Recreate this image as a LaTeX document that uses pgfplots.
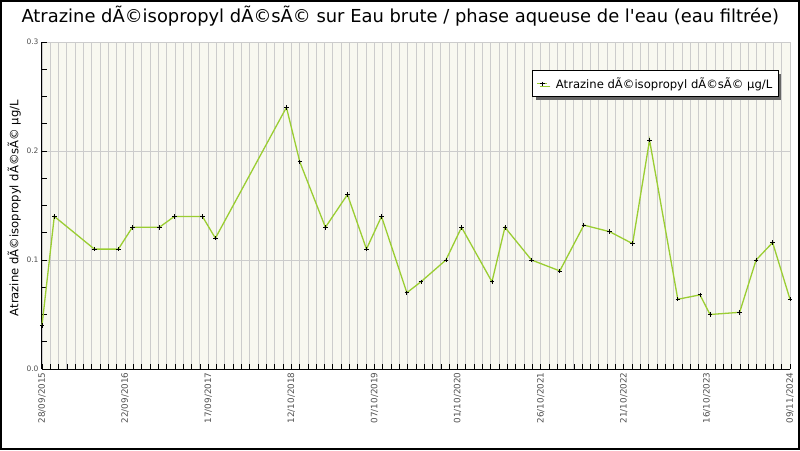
\documentclass[border=0pt]{standalone}
\usepackage{fontspec}
\setmainfont{DejaVu Sans}[Ligatures=TeXOff]
\usepackage{pgfplots}
\pgfplotsset{compat=1.18}
\usetikzlibrary{shadows}

\definecolor{plotbg}{RGB}{248,248,240}
\definecolor{gridgray}{RGB}{204,204,204}
\definecolor{serie}{RGB}{154,205,50}
\definecolor{ticktext}{RGB}{80,80,80}

% x = rang de la graduation (0..90), y = valeur en µg/L
\pgfplotstableread{
x     y
0     0.040
1.48  0.140
6.30  0.110
9.19  0.110
10.87 0.130
14.12 0.130
15.93 0.140
19.30 0.140
20.86 0.120
29.41 0.240
31.02 0.190
34.10 0.130
36.75 0.160
39.04 0.110
40.85 0.140
43.90 0.070
45.59 0.080
48.60 0.100
50.48 0.130
54.14 0.080
55.70 0.130
58.90 0.100
62.30 0.090
65.20 0.132
68.30 0.126
71.06 0.115
73.10 0.210
76.50 0.064
79.17 0.068
80.38 0.050
83.94 0.052
85.92 0.100
87.91 0.116
90.00 0.064
}\atrazine

\begin{document}
\begin{tikzpicture}
\begin{axis}[
	name=ax,
	scale only axis, width=748pt, height=327pt,
	xmin=0, xmax=90, ymin=0, ymax=0.3,
	axis x line*=bottom, axis y line*=left,
	axis line style={black, line width=1pt, -},
	axis background/.style={fill=plotbg},
	xtick={0,10,...,90},
	xticklabels={28/09/2015,22/09/2016,17/09/2017,12/10/2018,07/10/2019,01/10/2020,26/10/2021,21/10/2022,16/10/2023,09/11/2024},
	minor x tick num=9,
	ytick={0,0.1,0.2,0.3},
	minor y tick num=3,
	tick align=inside,
	major tick length=5pt, minor tick length=5pt,
	tick style={black, line width=0.8pt},
	xmajorgrids, xminorgrids, ymajorgrids,
	grid style={gridgray, line width=0.9pt},
	minor grid style={gridgray, line width=0.9pt},
	/pgf/number format/assume math mode=true,
	yticklabel style={/pgf/number format/fixed, /pgf/number format/fixed zerofill, /pgf/number format/precision=1,
		font=\fontsize{7.5}{9}\selectfont, text=ticktext},
	xticklabel style={rotate=90, anchor=east, font=\fontsize{8.8}{10}\selectfont, text=ticktext},
	title={Atrazine dÃ©isopropyl dÃ©sÃ© sur Eau brute / phase aqueuse de l'eau (eau filtrée)},
	title style={at={(axis description cs:0.479,1.061)}, anchor=center, font=\fontsize{17.9}{21}\selectfont},
	ylabel={Atrazine dÃ©isopropyl dÃ©sÃ© µg/L},
	ylabel style={at={(axis description cs:-0.037,0.492)}, anchor=center, font=\fontsize{11.6}{14}\selectfont},
	legend style={at={(axis description cs:0.985,0.914)}, anchor=north east,
		draw=black, line width=1pt, fill=white,
		drop shadow={shadow xshift=3pt, shadow yshift=-3pt, fill=black!60, opacity=1},
		font=\fontsize{11.6}{14}\selectfont, inner xsep=4pt, inner ysep=5pt,
		column sep=6pt},
	legend image code/.code={\draw[mark repeat=2, mark phase=2] plot coordinates {(0pt,0pt) (5pt,0pt) (10pt,0pt)};},
	legend cell align=left,
	clip=false,
]
\addplot[serie, line width=1.3pt, mark=+, mark size=2.2pt,
	mark options={black, line width=0.8pt}] table[x=x, y=y] {\atrazine};
\addlegendentry{Atrazine dÃ©isopropyl dÃ©sÃ© µg/L}
\end{axis}
\pgfresetboundingbox
\path[use as bounding box] ([shift={(-42pt,-81pt)}]ax.south west) rectangle ([shift={(758pt,369pt)}]ax.south west);
\draw[black, line width=2pt] ([shift={(-41pt,-80pt)}]ax.south west) rectangle ([shift={(757pt,368pt)}]ax.south west);
\end{tikzpicture}
\end{document}
